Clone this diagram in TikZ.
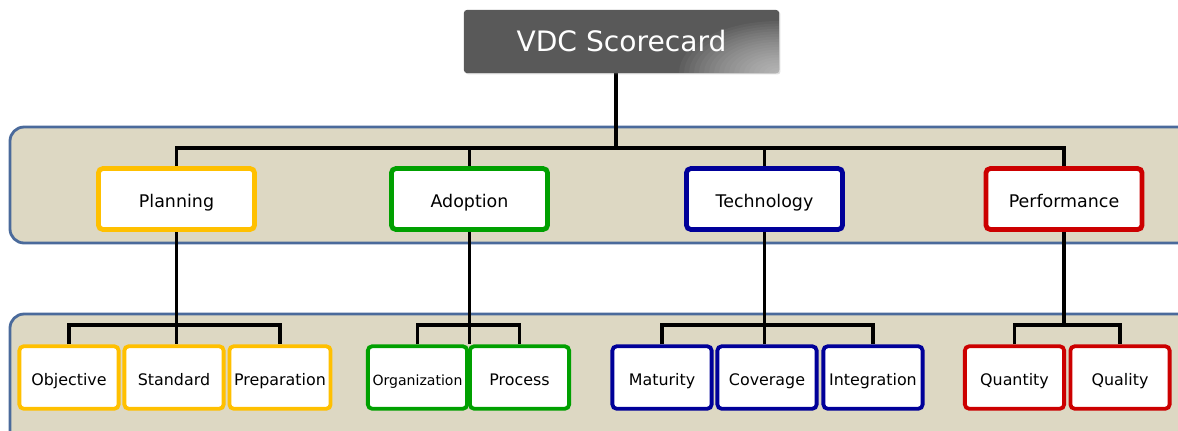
\documentclass[tikz,border=0pt]{standalone}
\usepackage{fontspec}
\setmainfont{DejaVu Sans}
\usetikzlibrary{shadows,backgrounds}
\definecolor{bandfill}{HTML}{DDD8C3}
\definecolor{bandline}{HTML}{4A6A9B}
\definecolor{headdark}{HTML}{595959}
\definecolor{planc}{HTML}{FFC000}
\definecolor{adopc}{HTML}{00A000}
\definecolor{techc}{HTML}{000099}
\definecolor{perfc}{HTML}{CC0000}
\begin{document}
\begin{tikzpicture}[x=0.025cm, y=-0.025cm]
        \tikzstyle{band}=[fill=bandfill, draw=bandline, line width=2pt, rounded corners=10pt]
        \tikzstyle{head}=[fill=headdark, rounded corners=2pt, minimum width=7.875cm, minimum height=1.575cm, text=white, font=\fontsize{20}{23}\selectfont,
            path picture={\foreach \k in {1,...,20} \fill[white, opacity=0.045] (path picture bounding box.south east) ellipse ({0.125*\k cm} and {0.065*\k cm});},
            drop shadow={opacity=0.25, shadow xshift=1pt, shadow yshift=-1pt}]
        \tikzstyle{lvlone}=[fill=white, line width=3.4pt, rounded corners=3pt, minimum width=3.9cm, minimum height=1.52cm, text height=1.2em, text depth=0pt, font=\fontsize{12.4}{15}\selectfont, drop shadow={opacity=0.25, shadow xshift=1pt, shadow yshift=-1pt}]
        \tikzstyle{lvltwo}=[fill=white, line width=2.7pt, rounded corners=3pt, minimum width=2.48cm, minimum height=1.56cm, text height=1.2em, text depth=0pt, font=\fontsize{11.3}{13}\selectfont, drop shadow={opacity=0.25, shadow xshift=1pt, shadow yshift=-1pt}]
        \tikzstyle{link}=[black, line width=2.4pt]
        \useasboundingbox (0,0) rectangle (1178,430);
        \node[head] (vdc) at (621.5,41.5) {VDC Scorecard};
        \node[lvlone, draw=planc] (plan) at (176.5,199) {Planning};
        \node[lvlone, draw=adopc] (adop) at (469.5,199) {Adoption};
        \node[lvlone, draw=techc] (tech) at (764.5,199) {Technology};
        \node[lvlone, draw=perfc] (perf) at (1064,199) {Performance};
        \node[lvltwo, draw=planc] (obj) at (69,377.5) {Objective};
        \node[lvltwo, draw=planc] (std) at (174,377.5) {Standard};
        \node[lvltwo, draw=planc] (prep) at (280,377.5) {Preparation};
        \node[lvltwo, draw=adopc, font=\fontsize{10}{12}\selectfont] (org) at (417.5,377.5) {Organization};
        \node[lvltwo, draw=adopc] (proc) at (519.5,377.5) {Process};
        \node[lvltwo, draw=techc] (mat) at (662,377.5) {Maturity};
        \node[lvltwo, draw=techc] (cov) at (767,377.5) {Coverage};
        \node[lvltwo, draw=techc] (integ) at (873,377.5) {Integration};
        \node[lvltwo, draw=perfc] (quan) at (1014.5,377.5) {Quantity};
        \node[lvltwo, draw=perfc] (qual) at (1120,377.5) {Quality};
        \coordinate (busa) at (0,148);
        \coordinate (busb) at (0,325);
        \begin{scope}[on background layer]
            \draw[band] (10,127) rectangle (1200,243);
            \draw[band] (10,314) rectangle (1200,450);
            \draw[link] ([xshift=-0.14cm]vdc.south) -- ([xshift=-0.14cm]vdc.south |- busa);
            \draw[link] (plan.north) |- (busa -| perf.north) -- (perf.north);
            \draw[link] (adop.north) -- (adop.north |- busa);
            \draw[link] (tech.north) -- (tech.north |- busa);
            \draw[link] (plan.south) -- (plan.south |- std.north);
            \draw[link] (obj.north) |- (busb -| prep.north) -- (prep.north);
            \draw[link] (adop.south) -- (adop.south |- org.north);
            \draw[link] (org.north) |- (busb -| proc.north) -- (proc.north);
            \draw[link] (tech.south) -- (tech.south |- cov.north);
            \draw[link] (mat.north) |- (busb -| integ.north) -- (integ.north);
            \draw[link] (perf.south) -- (perf.south |- busb);
            \draw[link] (quan.north) |- (busb -| qual.north) -- (qual.north);
        \end{scope}
    \end{tikzpicture}
\end{document}
